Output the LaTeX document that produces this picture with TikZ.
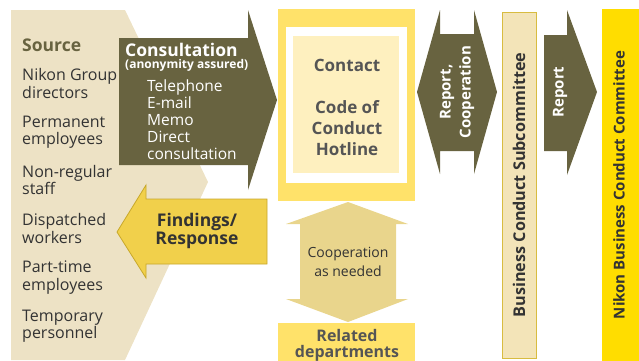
\documentclass[tikz,border=0pt]{standalone}
\usepackage{fontspec}
\setmainfont{Open Sans}
\definecolor{beigeC}{HTML}{EDE2C5}
\definecolor{oliveC}{HTML}{686340}
\definecolor{findFill}{HTML}{F1D04B}
\definecolor{findLine}{HTML}{C8A82A}
\definecolor{contactY}{HTML}{FFE26A}
\definecolor{innerY}{HTML}{FEF0BF}
\definecolor{coopY}{HTML}{E9D58C}
\definecolor{subFill}{HTML}{F3E4B8}
\definecolor{subLine}{HTML}{D8BC40}
\definecolor{comY}{HTML}{FFDD00}
\definecolor{darkT}{HTML}{333333}
\definecolor{grayT}{HTML}{555555}
\begin{document}
\begin{tikzpicture}[x=1pt,y=-1pt,
  srctext/.style={text=darkT,align=left,anchor=west,inner sep=0pt,font=\fontsize{16}{17.5}\selectfont},
  whitelist/.style={text=white,align=left,anchor=west,inner sep=0pt,font=\fontsize{15.5}{17}\selectfont},
  contacttext/.style={text=grayT,align=center,inner sep=0pt,font=\bfseries\fontsize{17}{21}\selectfont},
  vtext/.style={rotate=90,inner sep=0pt,font=\bfseries\fontsize{15}{20}\selectfont},
]
\useasboundingbox (0,0) rectangle (639,360);
% source background
\fill[beigeC] (11,10) -- (125,10) -- (208,182) -- (125,360) -- (11,360) -- cycle;
% consultation arrow
\fill[oliveC] (119,38) -- (248,38) -- (248,10) -- (277,100) -- (248,190) -- (248,165) -- (119,165) -- cycle;
% findings arrow
\filldraw[fill=findFill,draw=findLine,line width=0.8pt] (267,199) -- (146,199) -- (146,185) -- (117,232) -- (146,278) -- (146,264) -- (267,264) -- cycle;
% contact box
\fill[contactY] (278,9) rectangle (415,201);
\fill[white] (286,27) rectangle (407,183);
\fill[innerY] (293,36) rectangle (399,173);
% cooperation double arrow
\fill[coopY] (348,202) -- (408,224) -- (396,224) -- (396,299) -- (408,299) -- (348,322) -- (286,299) -- (300,299) -- (300,224) -- (286,224) -- cycle;
% related departments
\fill[contactY] (278,323) rectangle (415,362);
% report, cooperation double arrow
\fill[oliveC] (417,92) -- (440,10) -- (440,34) -- (474,34) -- (474,10) -- (497,92) -- (474,174) -- (474,151) -- (440,151) -- (440,174) -- cycle;
% subcommittee
\filldraw[fill=subFill,draw=subLine,line width=0.8pt] (502,12) rectangle (536,358);
% report arrow
\fill[oliveC] (544,35) -- (567,35) -- (567,10) -- (597,92) -- (567,175) -- (567,151) -- (544,151) -- cycle;
% committee
\fill[comY] (602,9) rectangle (640,361);

% texts
\node[anchor=west,inner sep=0pt,text=oliveC,font=\bfseries\fontsize{17.5}{18}\selectfont] (src) at (22,45) {Source};
\node[srctext] (s1) at (22,83.5) {Nikon Group\\directors};
\node[srctext] (s2) at (22,132) {Permanent\\employees};
\node[srctext] (s3) at (22,180) {Non-regular\\staff};
\node[srctext] (s4) at (22,228.5) {Dispatched\\workers};
\node[srctext] (s5) at (22,277.5) {Part-time\\employees};
\node[srctext] (s6) at (22,326) {Temporary\\personnel};

\node[anchor=west,inner sep=0pt,text=white,font=\bfseries\fontsize{17.5}{18}\selectfont] (cons) at (125,50) {Consultation};
\node[anchor=west,inner sep=0pt,text=white,font=\bfseries\fontsize{12}{13}\selectfont] (anon) at (125,65.5) {(anonymity assured)};
\node[whitelist] (list) at (147,120) {Telephone\\E-mail\\Memo\\Direct\\consultation};

\node[text=darkT,align=center,inner sep=0pt,font=\bfseries\fontsize{17.5}{18.5}\selectfont] (find) at (197,231) {Findings/\\Response};

\node[contacttext] (contact) at (347,65) {Contact};
\node[contacttext] (hotline) at (347,128) {Code of\\Conduct\\Hotline};

\node[text=darkT,align=center,inner sep=0pt,font=\fontsize{14}{18.5}\selectfont] (coop) at (348,262) {Cooperation\\as needed};

\node[text=grayT,align=center,inner sep=0pt,font=\bfseries\fontsize{16}{16}\selectfont,anchor=north] (rel) at (347,329) {Related\\departments};

\node[vtext,text=white,align=center] (repcoop) at (457,92) {Report,\\Cooperation};
\node[vtext,text=darkT,font=\bfseries\fontsize{16.2}{20}\selectfont] (sub) at (519,185) {Business Conduct Subcommittee};
\node[vtext,text=white] (rep) at (560,92) {Report};
\node[vtext,text=darkT] (com) at (619,185) {Nikon Business Conduct Committee};
\end{tikzpicture}
\end{document}
